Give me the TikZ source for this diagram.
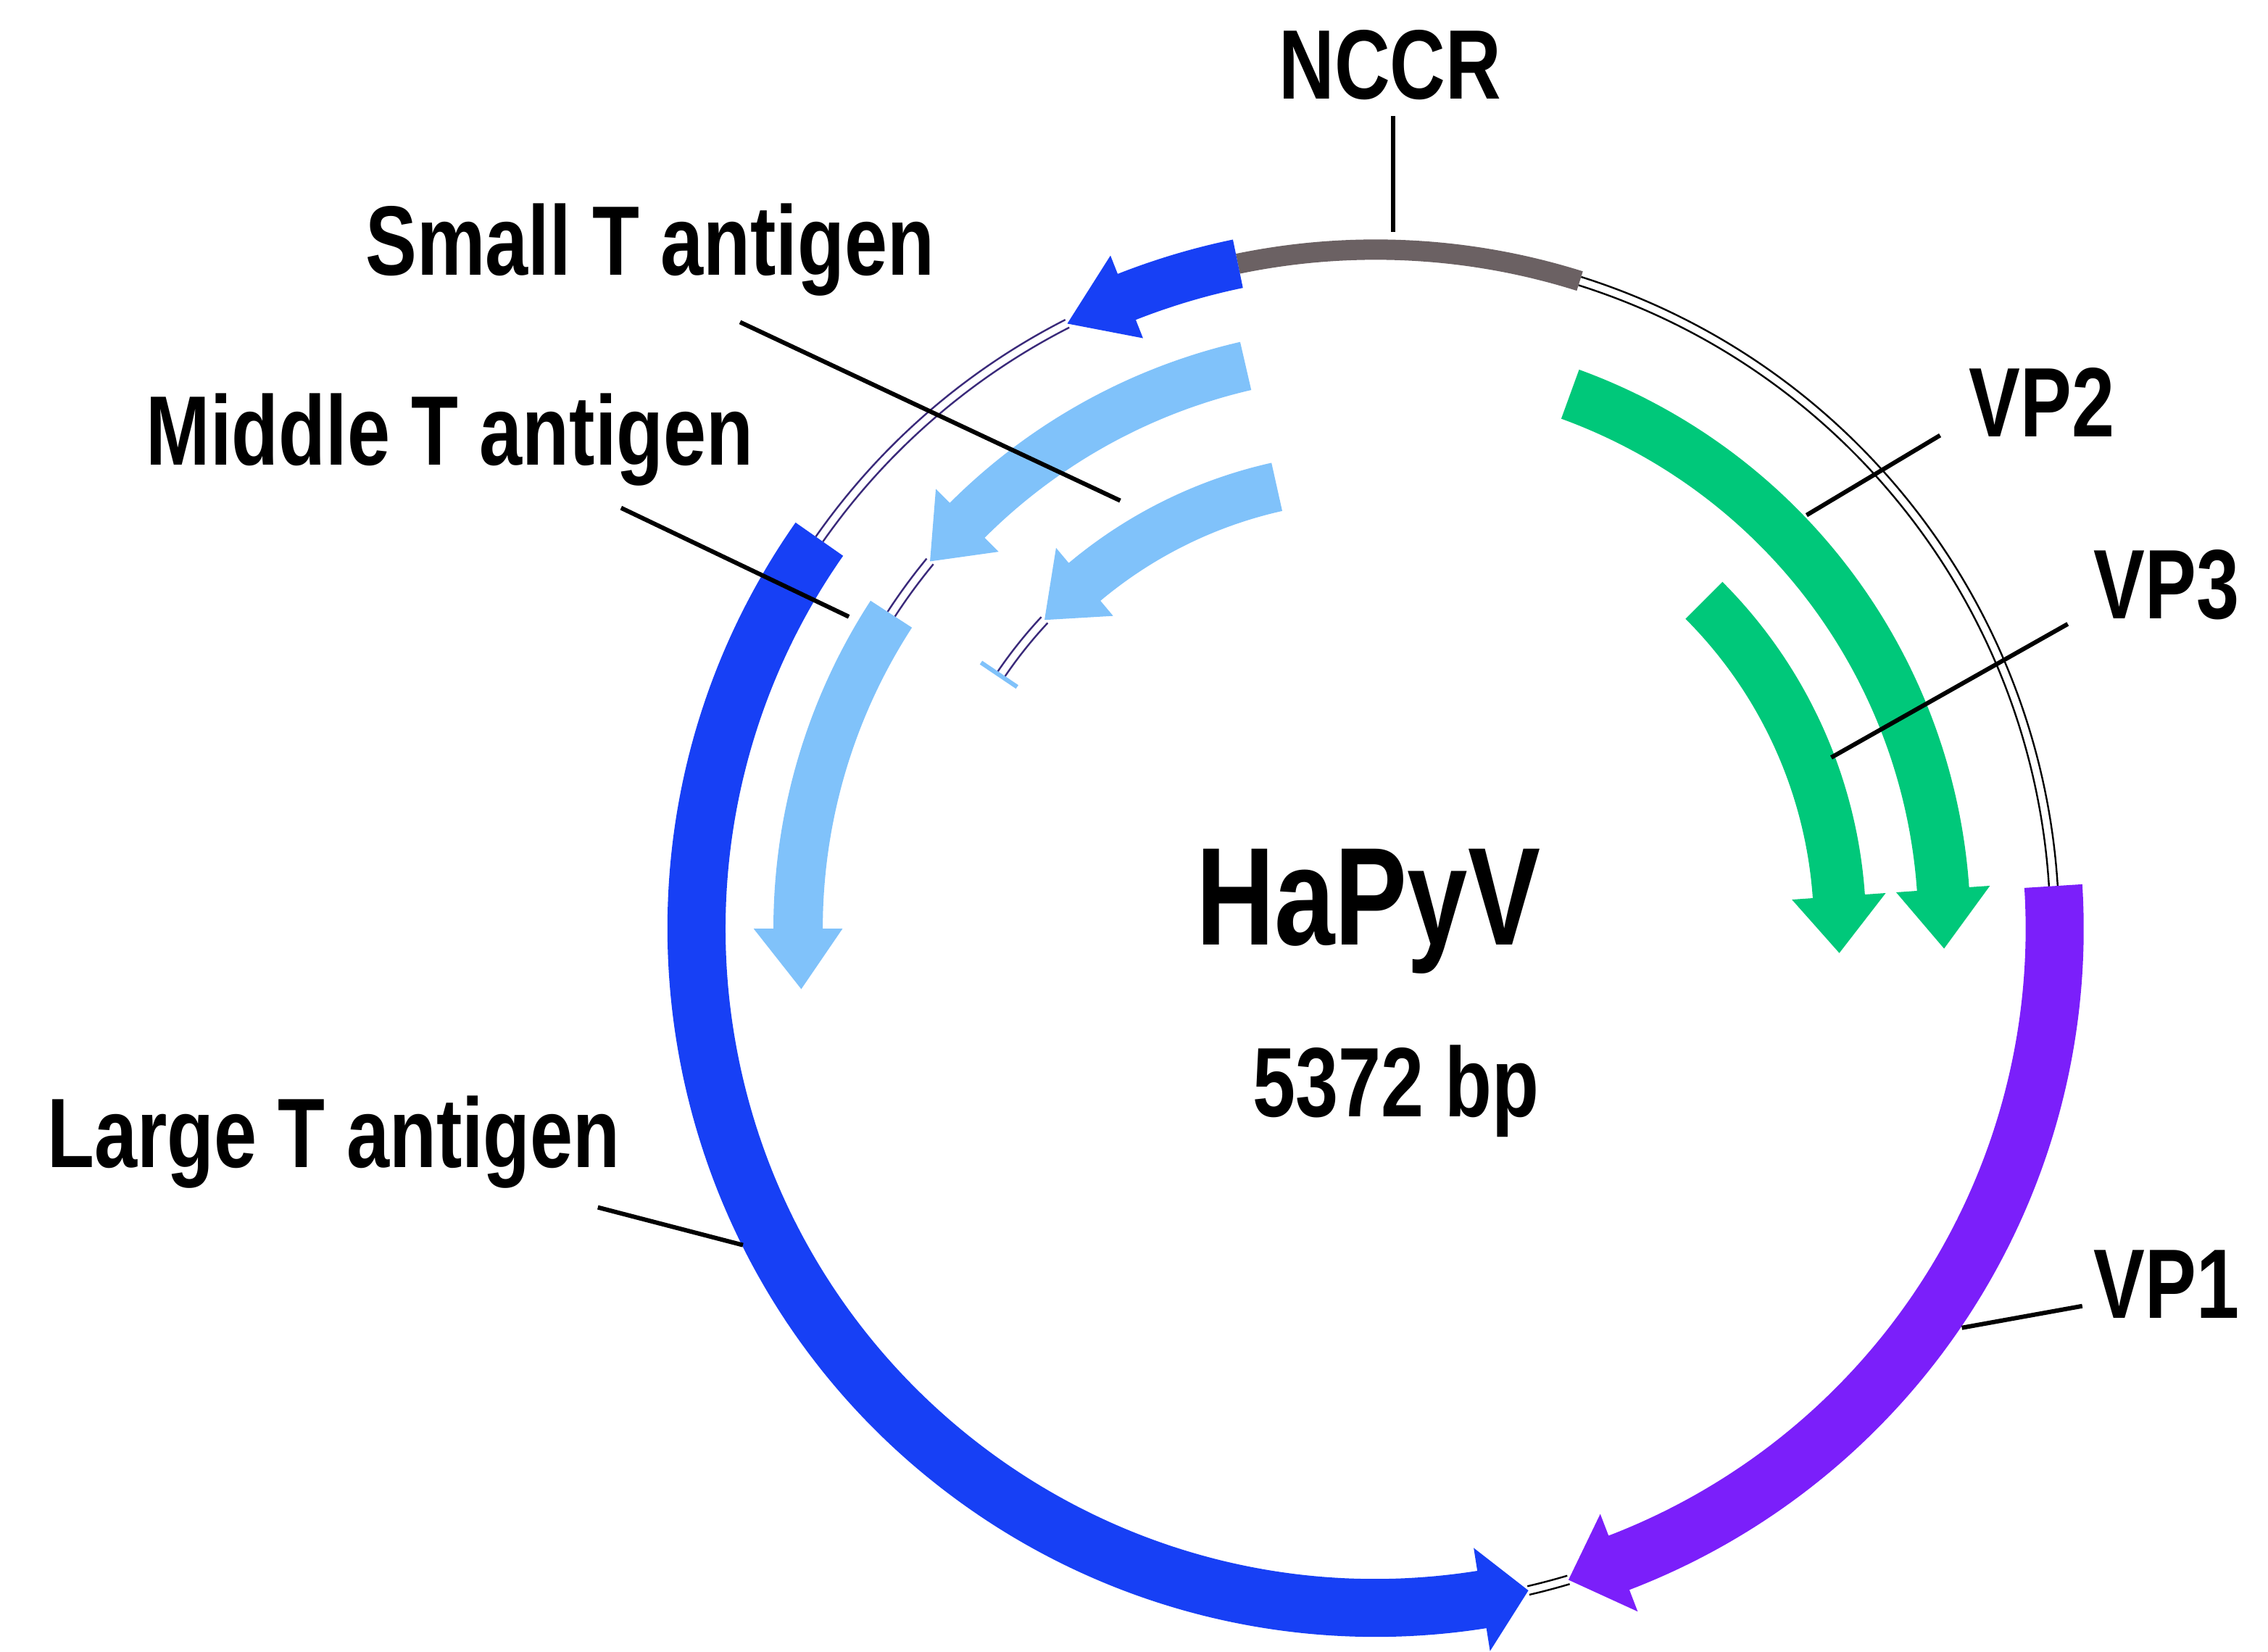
\documentclass[tikz,border=0pt]{standalone}
\usepackage{fontspec}
\setmainfont{Liberation Sans}
\usepackage{graphicx}
\definecolor{ltblue}{HTML}{80C2FA}
\definecolor{dkblue}{HTML}{1740F5}
\definecolor{grn}{HTML}{00C87A}
\definecolor{purp}{HTML}{7B1FFA}
\definecolor{ncgray}{HTML}{6B6163}
\definecolor{intr}{HTML}{3A2A7A}
\newcommand\garrow[6]{%
 \fill[#6] ({#3}:{#1+#2/2}) arc[start angle=#3,end angle=#4,radius={#1+#2/2}] -- ({#4}:{#1+0.9*#2}) -- ({#5}:{#1}) -- ({#4}:{#1-0.9*#2}) -- ({#4}:{#1-#2/2}) arc[start angle=#4,end angle=#3,radius={#1-#2/2}] -- cycle;}
\newcommand\dline[4]{%
 \draw[#4,line width=1.2pt] ({#2}:{#1+3}) arc[start angle=#2,end angle=#3,radius={#1+3}];
 \draw[#4,line width=1.2pt] ({#2}:{#1-3}) arc[start angle=#2,end angle=#3,radius={#1-3}];}
\tikzset{lbl/.style={font=\bfseries\fontsize{68}{70}\selectfont,inner sep=0pt},
 lead/.style={line width=3pt}}
\begin{document}
\begin{tikzpicture}[x=1pt,y=1pt]
\useasboundingbox (0,0) rectangle (1563,1138);
\begin{scope}[shift={(948,498)}]
% backbone
\dline{468}{72.5}{3.6}{black}
\dline{468}{-73.5}{-77}{black}
\dline{468}{117}{145}{intr}
% NCCR
\draw[ncgray,line width=14pt] (101.7:468) arc[start angle=101.7,end angle=72.5,radius=468];
% VP1
\garrow{468}{40}{3.6}{-69}{-73.5}{purp}
% Large T
\garrow{468}{40}{145}{279}{283}{dkblue}
% Small T
\garrow{468}{34}{101.7}{111.5}{117}{dkblue}
% middle T inner ring
\garrow{398}{34}{103}{135}{140.5}{ltblue}
\dline{398}{140.5}{147}{intr}
\garrow{398}{34}{147}{180}{186}{ltblue}
% small T inner ring
\garrow{312}{34}{102.6}{130}{137}{ltblue}
\dline{312}{137}{146}{intr}
\draw[ltblue,line width=3pt] (146:298) -- (146:328);
% VP2 VP3
\garrow{392}{36}{70}{4}{-2}{grn}
\garrow{320}{36}{45}{4}{-3}{grn}
\end{scope}
% labels
\node[lbl] (nccr) at (958,1093) {\scalebox{0.78}[1]{NCCR}};
\coordinate (n1) at (960,1058); \coordinate (n2) at (960,978);
\draw[lead] (n1) -- (n2);
\node[lbl] (st) at (448,966) {\scalebox{0.78}[1]{Small T antigen}};
\coordinate (s1) at (510,916); \coordinate (s2) at (772,793);
\draw[lead] (s1) -- (s2);
\node[lbl] (mt) at (310,835) {\scalebox{0.78}[1]{Middle T antigen}};
\coordinate (m1) at (428,788); \coordinate (m2) at (585,713);
\draw[lead] (m1) -- (m2);
\node[lbl] (lt) at (230,351) {\scalebox{0.78}[1]{Large T antigen}};
\coordinate (l1) at (412,306); \coordinate (l2) at (512,280);
\draw[lead] (l1) -- (l2);
\node[lbl] (vp2) at (1407,861) {\scalebox{0.78}[1]{VP2}};
\coordinate (v21) at (1337,838); \coordinate (v22) at (1245,783);
\draw[lead] (v21) -- (v22);
\node[lbl] (vp3) at (1493,735) {\scalebox{0.78}[1]{VP3}};
\coordinate (v31) at (1425,708); \coordinate (v32) at (1262,616);
\draw[lead] (v31) -- (v32);
\node[lbl] (vp1) at (1493,253) {\scalebox{0.78}[1]{VP1}};
\coordinate (v11) at (1435,238); \coordinate (v12) at (1352,223);
\draw[lead] (v11) -- (v12);
\node[font=\bfseries\fontsize{96}{100}\selectfont,inner sep=0pt] (name) at (943,510) {\scalebox{0.78}[1]{HaPyV}};
\node[lbl] (bp) at (962,386) {\scalebox{0.78}[1]{5372 bp}};
\end{tikzpicture}
\end{document}
